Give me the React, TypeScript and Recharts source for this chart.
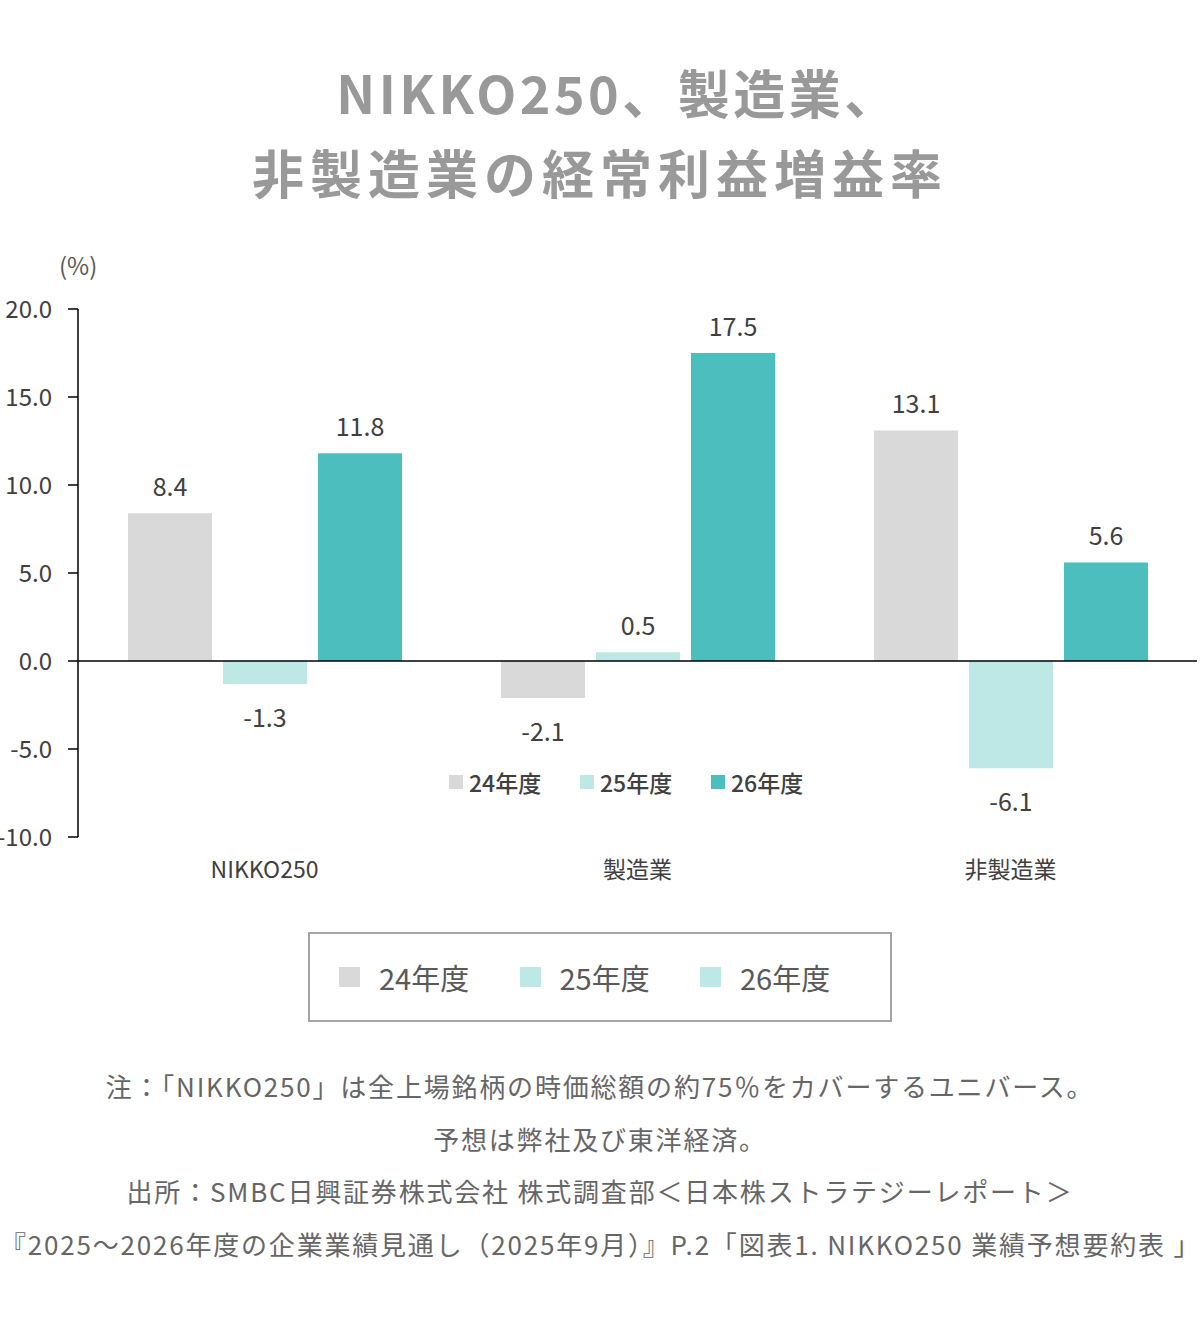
import React from "react";
import {
  BarChart,
  Bar,
  XAxis,
  YAxis,
  ReferenceLine,
  LabelList,
  Legend,
} from "recharts";

const categories = ["NIKKO250", "製造業", "非製造業"];
const fy24 = [8.4, -2.1, 13.1];
const fy25 = [-1.3, 0.5, -6.1];
const fy26 = [11.8, 17.5, 5.6];
const yTicks = [-10, -5, 0, 5, 10, 15, 20];

const series = [
  { key: "fy24", name: "24年度", color: "#D9D9D9", values: fy24 },
  { key: "fy25", name: "25年度", color: "#BDE8E5", values: fy25 },
  { key: "fy26", name: "26年度", color: "#4DBEBE", values: fy26 },
];

// the boxed legend under the chart shows 26年度 in the light colour, as in the source
const boxLegendColors = ["#D9D9D9", "#BDE8E5", "#BDE8E5"];

const notes = [
  "注：「NIKKO250」は全上場銘柄の時価総額の約75％をカバーするユニバース。",
  "予想は弊社及び東洋経済。",
  "出所：SMBC日興証券株式会社 株式調査部＜日本株ストラテジーレポート＞",
  "『2025～2026年度の企業業績見通し（2025年9月）』P.2「図表1. NIKKO250 業績予想要約表 」",
];

const data = categories.map((c, i) => ({
  category: c,
  fy24: fy24[i],
  fy25: fy25[i],
  fy26: fy26[i],
}));

const FONT = '"Noto Sans CJK JP", "Noto Sans", sans-serif';

const ValueLabel = (props: any) => {
  const { x, y, width, height, value } = props;
  const top = Math.min(y, y + height);
  const bottom = Math.max(y, y + height);
  const cy = value >= 0 ? top - 28 : bottom + 32;
  return (
    <text
      x={x + width / 2}
      y={cy}
      textAnchor="middle"
      dominantBaseline="central"
      fontSize={25}
      fill="#404040"
      fontFamily={FONT}
    >
      {Number(value).toFixed(1)}
    </text>
  );
};

const InnerLegend = (props: any) => {
  const payload = props.payload || [];
  return (
    <div style={{ display: "flex", fontFamily: FONT }}>
      {payload.map((p: any) => (
        <div
          key={p.value}
          style={{ width: 131, display: "flex", alignItems: "center" }}
        >
          <span
            style={{
              display: "inline-block",
              width: 14,
              height: 14,
              background: p.color,
              marginRight: 6,
            }}
          />
          <span style={{ fontSize: 23, color: "#404040", fontWeight: 500 }}>
            {p.value}
          </span>
        </div>
      ))}
    </div>
  );
};

export default function App() {
  return (
    <div
      style={{
        position: "absolute",
        left: 0,
        top: 0,
        width: 1200,
        height: 1327,
        background: "#fff",
        fontFamily: FONT,
        overflow: "hidden",
      }}
    >
      <div
        style={{
          position: "absolute",
          top: 52,
          left: 0,
          width: 1200,
          textAlign: "center",
          fontSize: 52,
          lineHeight: "80px",
          fontWeight: 700,
          color: "#999",
        }}
      >
        <div style={{ letterSpacing: 3.5, paddingLeft: 36 }}>NIKKO250、製造業、</div>
        <div style={{ letterSpacing: 6 }}>非製造業の経常利益増益率</div>
      </div>

      <div
        style={{
          position: "absolute",
          left: 59,
          top: 247,
          fontSize: 24,
          color: "#595959",
        }}
      >
        (%)
      </div>

      <div style={{ position: "absolute", left: 0, top: 0 }}>
        <BarChart
          width={1200}
          height={935}
          data={data}
          margin={{ top: 309, right: 3, bottom: 0, left: 0 }}
          barSize={84}
          barGap={11}
        >
          <XAxis
            dataKey="category"
            axisLine={false}
            tickLine={false}
            height={64}
            tickMargin={19}
            tick={{ fontSize: 23, fill: "#404040", fontFamily: FONT }}
          />
          <YAxis
            width={78}
            domain={[-10, 20]}
            ticks={yTicks}
            interval={0}
            tickFormatter={(v: number) => v.toFixed(1)}
            axisLine={{ stroke: "#000", strokeWidth: 1.5 }}
            tickLine={{ stroke: "#000", strokeWidth: 1.5 }}
            tickSize={10}
            tickMargin={16}
            tick={{ fontSize: 24, fill: "#404040", fontFamily: FONT }}
          />
          <Legend
            content={InnerLegend}
            wrapperStyle={{ position: "absolute", left: 449, top: 765, width: 420, bottom: "auto" }}
          />
          {series.map((s) => (
            <Bar
              key={s.key}
              dataKey={s.key}
              name={s.name}
              fill={s.color}
              isAnimationActive={false}
            >
              <LabelList dataKey={s.key} content={ValueLabel} />
            </Bar>
          ))}
          <ReferenceLine y={0} stroke="#000" strokeWidth={1.5} />
        </BarChart>
      </div>

      <div
        style={{
          position: "absolute",
          left: 308,
          top: 932,
          width: 580,
          height: 86,
          border: "2px solid #A6A6A6",
        }}
      >
        {series.map((s, i) => (
          <div
            key={s.key}
            style={{
              position: "absolute",
              left: 29 + i * 180.5,
              top: 0,
              height: 86,
              display: "flex",
              alignItems: "center",
            }}
          >
            <span
              style={{
                display: "inline-block",
                width: 21,
                height: 20,
                background: boxLegendColors[i],
                marginRight: 19,
              }}
            />
            <span style={{ fontSize: 29, color: "#595959" }}>{s.name}</span>
          </div>
        ))}
      </div>

      <div
        style={{
          position: "absolute",
          left: 0,
          top: 1060,
          width: 1200,
          textAlign: "center",
          fontSize: 26,
          lineHeight: "52.5px",
          color: "#666",
          letterSpacing: 1.8,
          whiteSpace: "nowrap",
        }}
      >
        {notes.map((n) => (
          <div key={n}>{n}</div>
        ))}
      </div>
    </div>
  );
}
